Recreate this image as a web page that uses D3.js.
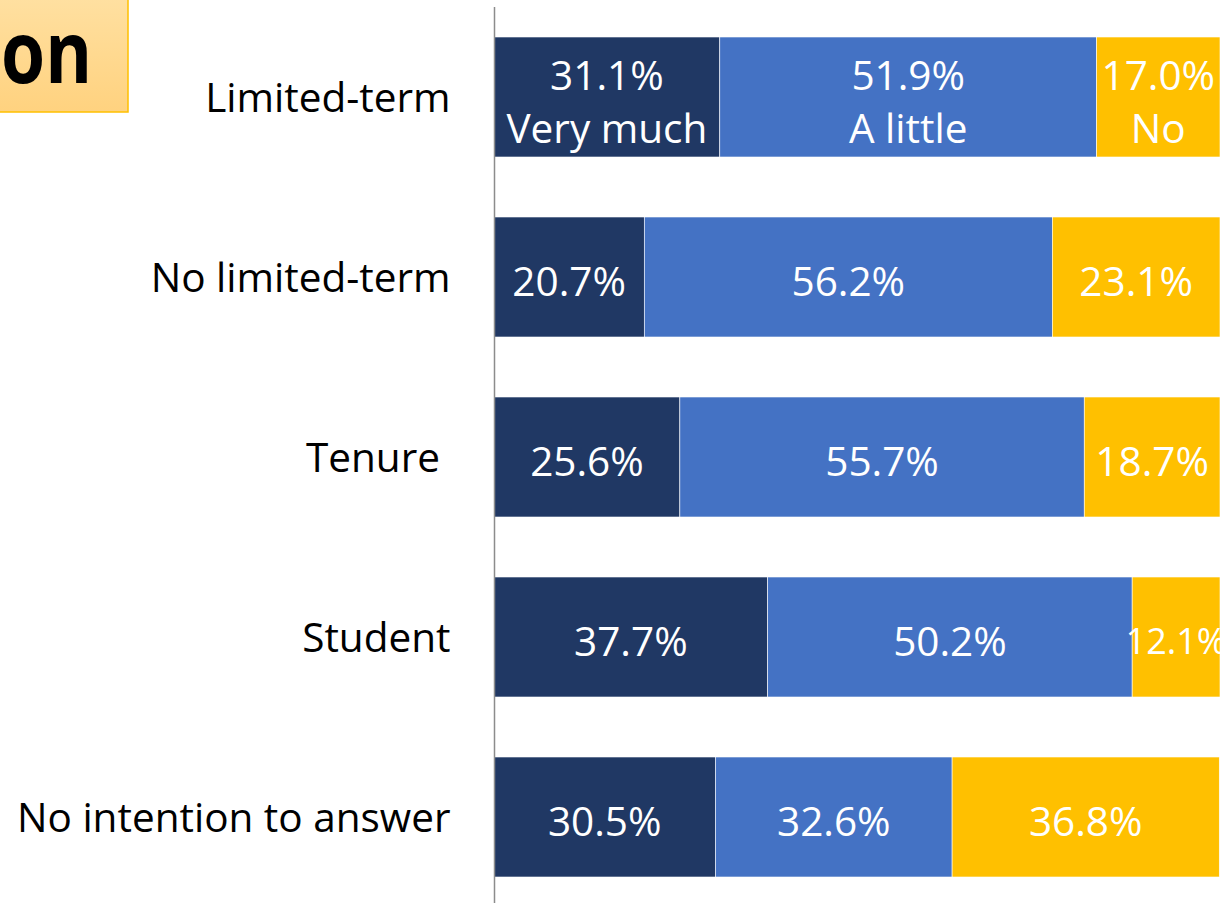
<!DOCTYPE html>
<html>
<head>
<meta charset="utf-8">
<script src="https://cdn.jsdelivr.net/npm/d3@7"></script>
<style>
  body { margin: 0; background: #ffffff; overflow: hidden; }
  svg { display: block; font-family: "Open Sans", "Noto Sans", sans-serif; }
</style>
</head>
<body>
<div class="chart"></div>
<script>
// categories, top to bottom
var categories = ["Limited-term", "No limited-term", "Tenure ", "Student", "No intention to answer"];
// series names and values (%)
var seriesNames = ["Very much", "A little", "No"];
var veryMuch = [31.1, 20.7, 25.6, 37.7, 30.5];
var aLittle = [51.9, 56.2, 55.7, 50.2, 32.6];
var noAnswer = [17.0, 23.1, 18.7, 12.1, 36.8];
var titleText = "on";

var svgWidth = 1227;
var svgHeight = 903;
var margin = { top: 7, right: 7, bottom: 0, left: 494 };
var width = svgWidth - margin.left - margin.right;   // 726
var height = svgHeight - margin.top - margin.bottom;

var colors = ["#203864", "#4472C4", "#FFC000"];

var svg = d3.select(".chart")
  .append("svg")
  .attr("width", svgWidth)
  .attr("height", svgHeight);

var defs = svg.append("defs");
var grad = defs.append("linearGradient")
  .attr("id", "titleGrad")
  .attr("x1", 0).attr("y1", 0).attr("x2", 0).attr("y2", 1);
grad.append("stop").attr("offset", "0%").attr("stop-color", "#FFE2A6");
grad.append("stop").attr("offset", "100%").attr("stop-color", "#FFD27F");

var clip = defs.append("clipPath").attr("id", "plotClip");
clip.append("rect").attr("x", 0).attr("y", -margin.top).attr("width", width).attr("height", svgHeight);

// title box (cut off at the left edge)
svg.append("rect")
  .attr("x", -20)
  .attr("y", -20)
  .attr("width", 148)
  .attr("height", 132)
  .attr("fill", "url(#titleGrad)")
  .attr("stroke", "#FFC000")
  .attr("stroke-width", 1.5);

svg.append("text")
  .attr("x", 1)
  .attr("y", 83)
  .attr("text-anchor", "start")
  .attr("textLength", 91)
  .attr("lengthAdjust", "spacingAndGlyphs")
  .style("font-size", "86px")
  .style("font-weight", "bold")
  .style("fill", "#000")
  .text(titleText);

var chartGroup = svg.append("g")
  .attr("transform", `translate(${margin.left}, ${margin.top})`);

// stack the data
var rows = categories.map(function(c, i) {
  return { cat: c, "Very much": veryMuch[i], "A little": aLittle[i], "No": noAnswer[i] };
});
var stacked = d3.stack().keys(seriesNames)(rows);

var xScale = d3.scaleLinear().domain([0, 100]).range([0, width]);
var yScale = d3.scaleBand()
  .domain(categories)
  .range([0, 900])
  .paddingInner(1 / 3)
  .paddingOuter(1 / 6);

var plot = chartGroup.append("g").attr("clip-path", "url(#plotClip)");

var layers = plot.selectAll("g.layer")
  .data(stacked)
  .enter()
  .append("g")
  .attr("class", "layer")
  .attr("fill", (d, i) => colors[i]);

layers.selectAll("rect")
  .data(d => d)
  .enter()
  .append("rect")
  .attr("x", d => xScale(d[0]))
  .attr("y", d => yScale(d.data.cat))
  .attr("width", d => xScale(d[1]) - xScale(d[0]))
  .attr("height", yScale.bandwidth())
  .attr("stroke", "#ffffff")
  .attr("stroke-width", 0.6);

// value labels
layers.each(function(layer, li) {
  var g = d3.select(this);
  layer.forEach(function(d, ri) {
    var cx = (xScale(d[0]) + xScale(d[1])) / 2;
    var cy = yScale(d.data.cat) + yScale.bandwidth() / 2;
    var segW = xScale(d[1]) - xScale(d[0]);
    var fs = segW < 95 ? 36 : 40.5;
    var val = (d[1] - d[0]).toFixed(1) + "%";
    if (ri === 0) {
      // first row also shows the series name
      g.append("text")
        .attr("x", cx).attr("y", cy - 23)
        .attr("text-anchor", "middle").attr("dominant-baseline", "central")
        .style("font-size", fs + "px").style("fill", "#fff")
        .text(val);
      g.append("text")
        .attr("x", cx).attr("y", cy + 30)
        .attr("text-anchor", "middle").attr("dominant-baseline", "central")
        .style("font-size", fs + "px").style("fill", "#fff")
        .text(layer.key);
    } else {
      g.append("text")
        .attr("x", cx).attr("y", cy + 3)
        .attr("text-anchor", "middle").attr("dominant-baseline", "central")
        .style("font-size", fs + "px").style("fill", "#fff")
        .text(val);
    }
  });
});

// category axis
var leftAxis = d3.axisLeft(yScale).tickSize(0).tickPadding(44);
var yAxis = chartGroup.append("g")
  .attr("transform", "translate(0.5, 0)")
  .call(leftAxis);
yAxis.select(".domain")
  .attr("d", `M0,${0}V${height}`)
  .attr("stroke", "#8c8c8c")
  .attr("stroke-width", 1.5);
yAxis.selectAll(".tick text")
  .style("font-size", "40.5px")
  .style("font-family", "'Open Sans', 'Noto Sans', sans-serif")
  .style("fill", "#000")
  .style("white-space", "pre")
  .attr("dy", "0.36em");
</script>
</body>
</html>
